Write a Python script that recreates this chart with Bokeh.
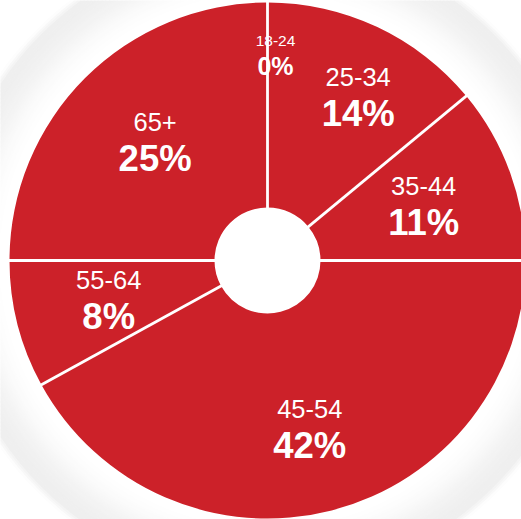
import math
from bokeh.plotting import figure
from bokeh.models import Range1d, ColumnDataSource
from bokeh.core.properties import value
from bokeh.embed import file_html
from bokeh.resources import INLINE

# ---------------- data ----------------
categories = ["18-24", "25-34", "35-44", "45-54", "55-64", "65+"]
percents = [0, 14, 11, 42, 8, 25]

# ---------------- layout / style ----------------
W, H = 521, 519
CX, CY = 267, H - 260          # pie centre (data units = pixels, y up)
R_OUT, R_IN = 258, 53
RED = "#CC2129"
FONT = "Liberation Sans"
LABEL_R = 166
# small label nudges (page pixels: dx, dy downwards)
NUDGE = {"18-24": (8, -41), "25-34": (20, -15), "45-54": (1, 6),
         "55-64": (2, -4), "65+": (5, -3)}

p = figure(width=W, height=H, x_range=Range1d(0, W), y_range=Range1d(0, H),
           output_backend="svg", toolbar_location=None, min_border=0,
           x_axis_location=None, y_axis_location=None)
p.grid.visible = False
p.outline_line_color = None
p.background_fill_color = "white"
p.border_fill_color = "white"

# ---------------- soft grey halo ----------------
inner_r, outer_r, colors = [], [], []
r = R_OUT - 2
while r < 326:
    t = min(max((r - 262) / (314 - 262), 0.0), 1.0)
    s = t * t * (3 - 2 * t)
    fade = 1.0 if r <= 318 else max(0.0, 1 - (r - 318) / 7.0)
    lvl = int(round(255 - 16 * s * fade))
    inner_r.append(r)
    outer_r.append(r + 2.5)
    colors.append("#%02x%02x%02x" % (lvl, lvl, lvl))
    r += 2
p.annulus(x=CX, y=CY, inner_radius=inner_r, outer_radius=outer_r,
          fill_color=colors, line_color=None)

# ---------------- slices ----------------
total = float(sum(percents))
fr = [v / total for v in percents]
starts, ends = [], []
c = 0.0
for f in fr:
    starts.append(c)
    c += f
    ends.append(c)

wsrc = ColumnDataSource(dict(
    start=[math.pi / 2 - 2 * math.pi * s for s, f in zip(starts, fr) if f > 0],
    end=[math.pi / 2 - 2 * math.pi * e for e, f in zip(ends, fr) if f > 0],
))
p.annular_wedge(x=CX, y=CY, inner_radius=R_IN, outer_radius=R_OUT,
                start_angle="start", end_angle="end", direction="clock",
                fill_color=RED, line_color=None, source=wsrc)

# separators
bounds = sorted(set(round(s, 9) % 1.0 for s in starts))
sx0, sy0, sx1, sy1 = [], [], [], []
for b in bounds:
    a = math.pi / 2 - 2 * math.pi * b
    sx0.append(CX + (R_IN - 1) * math.cos(a))
    sy0.append(CY + (R_IN - 1) * math.sin(a))
    sx1.append(CX + (R_OUT + 1) * math.cos(a))
    sy1.append(CY + (R_OUT + 1) * math.sin(a))
p.segment(x0=sx0, y0=sy0, x1=sx1, y1=sy1, line_color="white", line_width=2.8)

# ---------------- labels ----------------
cx_l, cy_l, px_l, py_l, ctext, ptext = [], [], [], [], [], []
small_c, small_p = [], []
for cat, v, s, e in zip(categories, percents, starts, ends):
    th = 2 * math.pi * (s + e) / 2
    x = CX + LABEL_R * math.sin(th)
    y = CY + LABEL_R * math.cos(th)
    dx, dy = NUDGE.get(cat, (0, 0))
    x += dx
    y -= dy
    gap = 18.25 if v > 0 else 12.5
    if v > 0:
        cx_l.append(x); cy_l.append(y + gap); ctext.append(cat)
        px_l.append(x); py_l.append(y - gap); ptext.append("%d%%" % v)
    else:
        small_c.append((x, y + gap, cat))
        small_p.append((x, y - gap, "%d%%" % v))

p.text(x=cx_l, y=cy_l, text=ctext, text_color="white", text_align="center",
       text_baseline="middle", text_font=value(FONT), text_font_size="25.5px")
p.text(x=px_l, y=py_l, text=ptext, text_color="white", text_align="center",
       text_baseline="middle", text_font=value(FONT), text_font_size="36.5px",
       text_font_style="bold")
if small_c:
    p.text(x=[a for a, b, t in small_c], y=[b for a, b, t in small_c],
           text=[t for a, b, t in small_c], text_color="white",
           text_align="center", text_baseline="middle",
           text_font=value(FONT), text_font_size="15.5px")
    p.text(x=[a for a, b, t in small_p], y=[b for a, b, t in small_p],
           text=[t for a, b, t in small_p], text_color="white",
           text_align="center", text_baseline="middle",
           text_font=value(FONT), text_font_size="25px", text_font_style="bold")

html = file_html(p, INLINE, title="Age distribution")
html = html.replace("</head>", "<style>html,body{margin:0;padding:0;overflow:hidden}</style></head>", 1)
open("out.html", "w").write(html)
